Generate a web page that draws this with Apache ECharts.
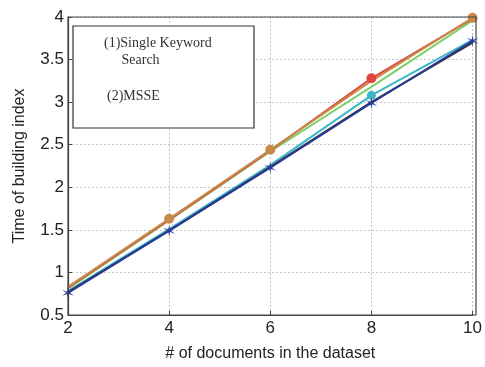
<!DOCTYPE html>
<html><head><meta charset="utf-8">
<script src="https://cdn.jsdelivr.net/npm/echarts@6/dist/echarts.min.js"></script>
<style>html,body{margin:0;padding:0;background:#fff}#c{width:485px;height:367px}</style>
</head><body><div id="c"></div>
<script>
const categories = [2, 4, 6, 8, 10];
const orangeVals = [0.83, 1.63, 2.44, 3.25, 3.99];
const redVals = [0.82, 1.62, 2.43, 3.28, 3.98];
const greenVals = [0.81, 1.61, 2.42, 3.18, 3.96];
const cyanVals = [0.78, 1.51, 2.26, 3.08, 3.73];
const blackVals = [0.77, 1.49, 2.24, 3.00, 3.70];
const blueVals = [0.76, 1.49, 2.23, 2.99, 3.72];
const yTicks = [0.5, 1, 1.5, 2, 2.5, 3, 3.5, 4];
const legendLines = ['(1)Single Keyword', '     Search', '(2)MSSE'];

const starPath = 'path://M50,0 L56,40 L93,25 L62,50 L93,75 L56,60 L50,100 L44,60 L7,75 L38,50 L7,25 L44,40 Z';
const toPts = v => categories.map((x, i) => [x, v[i]]);
function mk(name, vals, color, symbol, size, showIdx) {
  return {
    name, type: 'line', data: toPts(vals).map((p, i) => ({
      value: p, symbol: showIdx === 'all' || (showIdx && showIdx.includes(i)) ? symbol : 'none'
    })),
    symbolSize: size, lineStyle: { color, width: 2 }, itemStyle: { color },
    showSymbol: true, animation: false, z: 3
  };
}
const chart = echarts.init(document.getElementById('c'));
chart.setOption({
  animation: false,
  grid: { left: 68, right: 9, top: 17, bottom: 52, show: false },
  xAxis: {
    type: 'value', min: 2, max: 10, interval: 2,
    name: '# of documents in the dataset', nameLocation: 'middle', nameGap: 31,
    nameTextStyle: { fontFamily: 'Liberation Sans', fontSize: 16, color: '#222' },
    axisLine: { show: true, lineStyle: { color: '#444', width: 1.2 } },
    axisTick: { show: true, inside: true, length: 4, lineStyle: { color: '#444' } },
    axisLabel: { fontFamily: 'Liberation Sans', fontSize: 17, color: '#222', margin: 5,
      formatter: v => categories.includes(v) ? String(v) : '' },
    splitLine: { show: true, lineStyle: { color: '#c4c4c4', type: [2, 2], width: 1 } }
  },
  yAxis: {
    type: 'value', min: 0.5, max: 4, interval: 0.5,
    name: 'Time of building index', nameLocation: 'middle', nameGap: 40,
    nameTextStyle: { fontFamily: 'Liberation Sans', fontSize: 16, color: '#222' },
    axisLine: { show: true, lineStyle: { color: '#444', width: 1.2 } },
    axisTick: { show: true, inside: true, length: 4, lineStyle: { color: '#444' } },
    axisLabel: { fontFamily: 'Liberation Sans', fontSize: 17, color: '#222', margin: 4,
      formatter: v => yTicks.includes(v) ? String(v) : '' },
    splitLine: { show: true, lineStyle: { color: '#c4c4c4', type: [2, 2], width: 1 } }
  },
  graphic: [
    { type: 'rect', shape: { x: 68, y: 17, width: 408, height: 298 }, style: { fill: 'none', stroke: '#444', lineWidth: 1.2 }, z: 10, silent: true },
    { type: 'rect', shape: { x: 73, y: 26, width: 181, height: 102 }, style: { fill: '#fff', stroke: '#333', lineWidth: 1.2 }, z: 20 },
    { type: 'text', x: 104, y: 36, style: { text: legendLines[0], font: '14px "Liberation Serif"', fill: '#333' }, z: 21 },
    { type: 'text', x: 104, y: 53, style: { text: legendLines[1], font: '14px "Liberation Serif"', fill: '#333' }, z: 21 },
    { type: 'text', x: 107, y: 89, style: { text: legendLines[2], font: '14px "Liberation Serif"', fill: '#333' }, z: 21 }
  ],
  series: [
    mk('green', greenVals, '#7ccf6a', 'circle', 6, []),
    mk('red', redVals, '#e0463c', 'circle', 10, [3]),
    mk('orange', orangeVals, '#c88a4a', 'circle', 10, [1, 2, 4]),
    mk('cyan', cyanVals, '#3cb8c8', 'circle', 9, [3]),
    mk('black', blackVals, '#333', 'circle', 6, []),
    mk('blue', blueVals, '#2a3a9a', starPath, 12, 'all')
  ]
});
</script></body></html>
